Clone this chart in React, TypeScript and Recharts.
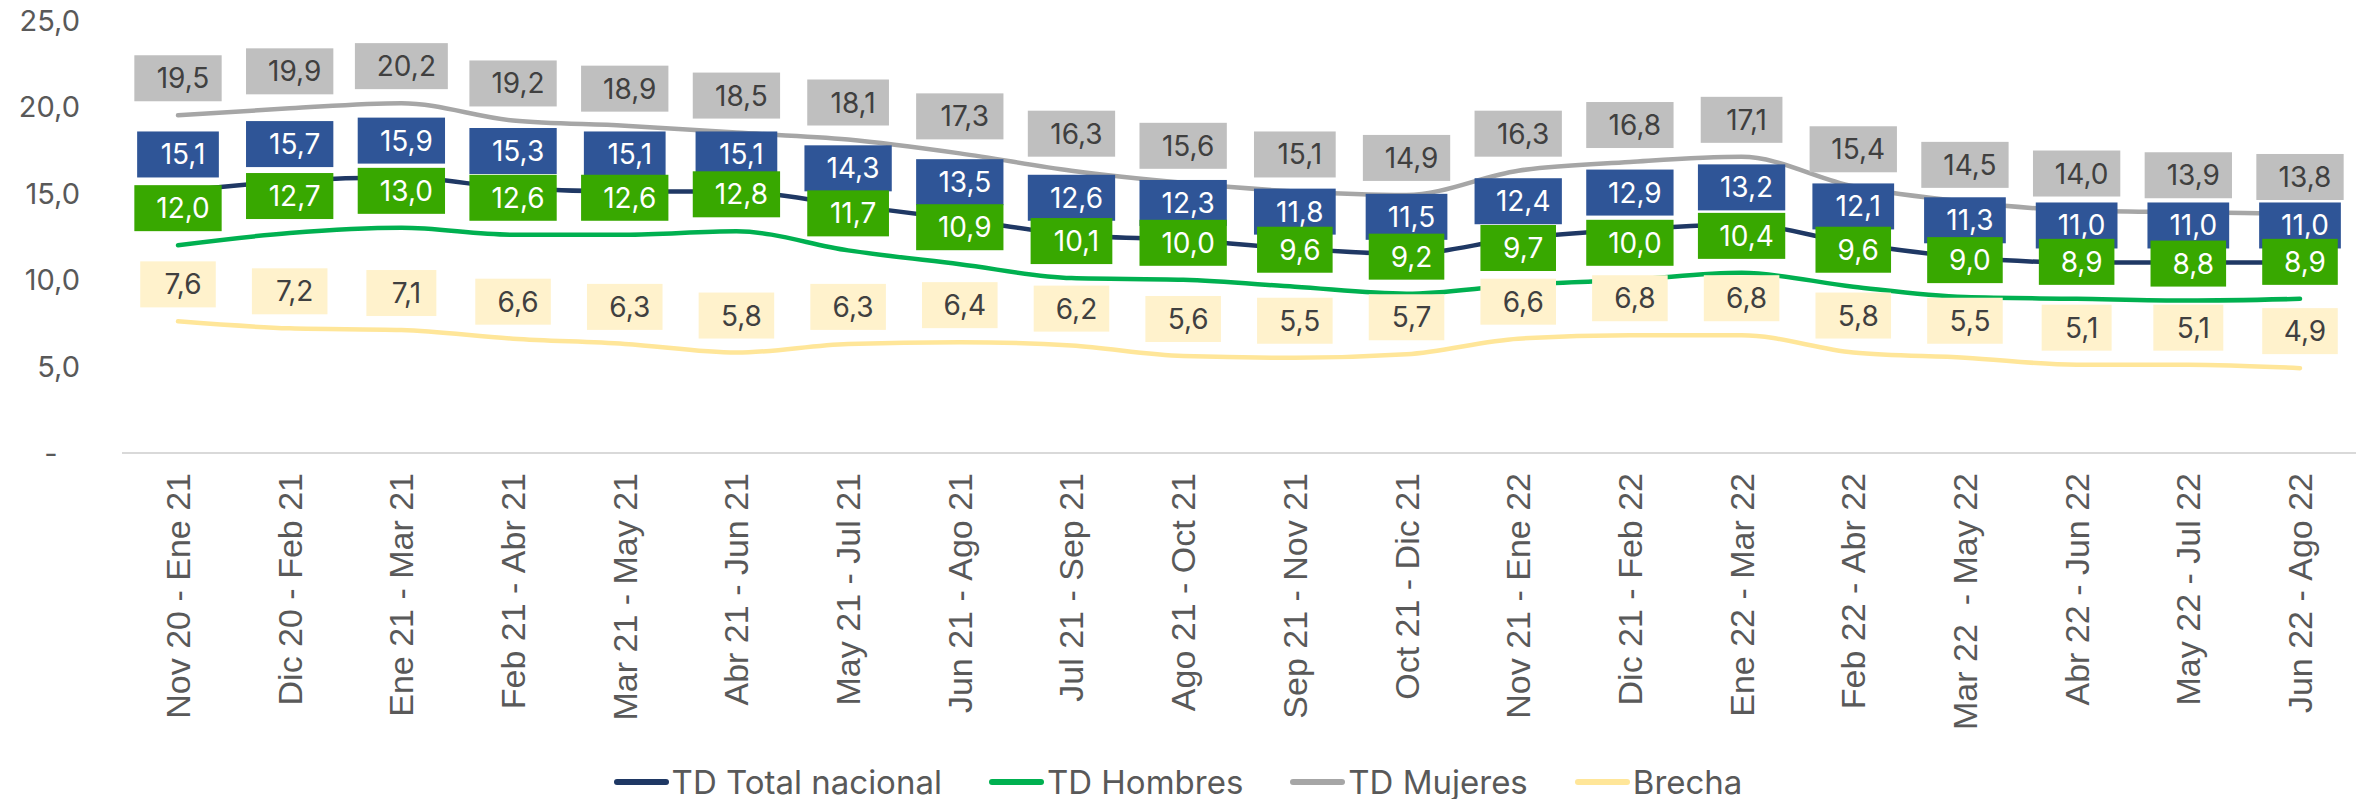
import React from "react";
import {
  LineChart,
  Line,
  XAxis,
  YAxis,
  Legend,
  LabelList,
} from "recharts";

if (typeof document !== "undefined") document.body.style.margin = "0";

const categories = [
  "Nov 20 - Ene 21",
  "Dic 20 - Feb 21",
  "Ene 21 - Mar 21",
  "Feb 21 - Abr 21",
  "Mar 21 - May 21",
  "Abr 21 - Jun 21",
  "May 21 - Jul 21",
  "Jun 21 - Ago 21",
  "Jul 21 - Sep 21",
  "Ago 21 - Oct 21",
  "Sep 21 - Nov 21",
  "Oct 21 - Dic 21",
  "Nov 21 - Ene 22",
  "Dic 21 - Feb 22",
  "Ene 22 - Mar 22",
  "Feb 22 - Abr 22",
  "Mar 22  - May 22",
  "Abr 22 - Jun 22",
  "May 22 - Jul 22",
  "Jun 22 - Ago 22",
];

const totalNacional = [15.1, 15.7, 15.9, 15.3, 15.1, 15.1, 14.3, 13.5, 12.6, 12.3, 11.8, 11.5, 12.4, 12.9, 13.2, 12.1, 11.3, 11.0, 11.0, 11.0];
const hombres = [12.0, 12.7, 13.0, 12.6, 12.6, 12.8, 11.7, 10.9, 10.1, 10.0, 9.6, 9.2, 9.7, 10.0, 10.4, 9.6, 9.0, 8.9, 8.8, 8.9];
const mujeres = [19.5, 19.9, 20.2, 19.2, 18.9, 18.5, 18.1, 17.3, 16.3, 15.6, 15.1, 14.9, 16.3, 16.8, 17.1, 15.4, 14.5, 14.0, 13.9, 13.8];
const brecha = [7.6, 7.2, 7.1, 6.6, 6.3, 5.8, 6.3, 6.4, 6.2, 5.6, 5.5, 5.7, 6.6, 6.8, 6.8, 5.8, 5.5, 5.1, 5.1, 4.9];

const yTicks = [0, 5, 10, 15, 20, 25];

const legendItems = [
  { name: "TD Total nacional", color: "#1F3864" },
  { name: "TD Hombres", color: "#00B050" },
  { name: "TD Mujeres", color: "#A6A6A6" },
  { name: "Brecha", color: "#FFE699" },
];

const data = categories.map((cat, i) => ({
  cat,
  total: totalNacional[i],
  hombres: hombres[i],
  mujeres: mujeres[i],
  brecha: brecha[i],
}));

const fmt = (v: number) => v.toFixed(1).replace(".", ",");

const LABEL_FONT = "Inter, 'Noto Sans', sans-serif";
const LABEL_SIZE = 28;

// rough glyph widths (em) so the boxes hug the text like excel does
const charW = (s: string) =>
  s.split("").reduce((acc, c) => acc + (c === "1" ? 0.42 : c === "," ? 0.28 : 0.62), 0);

const boxLabel = (bg: string, fg: string) => (props: any) => {
  const { x, y, value } = props;
  if (value == null) return null;
  const txt = fmt(Number(value));
  const w = charW(txt) * LABEL_SIZE + 33;
  const h = 46;
  const cy = y - 37;
  return (
    <g>
      <rect x={x - w / 2} y={cy - h / 2} width={w} height={h} fill={bg} />
      <text
        x={x + 5}
        y={cy}
        textAnchor="middle"
        dominantBaseline="central"
        fontFamily={LABEL_FONT}
        fontSize={LABEL_SIZE}
        fill={fg}
      >
        {txt}
      </text>
    </g>
  );
};

const XTick = (props: any) => {
  const { x, y, payload } = props;
  const label = String(payload.value).replace(/ /g, "\u00A0");
  return (
    <text
      transform={`translate(${x},${y}) rotate(-90)`}
      textAnchor="end"
      dominantBaseline="central"
      fontFamily="'Liberation Sans', Arial, sans-serif"
      fontSize={34}
      fill="#595959"
    >
      {label}
    </text>
  );
};

const YTick = (props: any) => {
  const { x, y, payload } = props;
  const v = payload.value;
  return (
    <text
      x={v === 0 ? x - 29 : x}
      y={y}
      textAnchor={v === 0 ? "middle" : "end"}
      dominantBaseline="central"
      fontFamily={LABEL_FONT}
      fontSize={29}
      fill="#595959"
    >
      {v === 0 ? "-" : fmt(v)}
    </text>
  );
};

const LegendBox = () => (
  <div
    style={{
      display: "flex",
      justifyContent: "center",
      alignItems: "center",
      height: 34,
      gap: 47,
      fontFamily: LABEL_FONT,
      fontSize: 33,
      color: "#595959",
    }}
  >
    {legendItems.map((it) => (
      <div key={it.name} style={{ display: "flex", alignItems: "center" }}>
        <span
          style={{
            display: "inline-block",
            width: 55,
            height: 6,
            borderRadius: 3,
            background: it.color,
            marginRight: 3,
          }}
        />
        <span>{it.name}</span>
      </div>
    ))}
  </div>
);

export default function App() {
  return (
    <div style={{ width: 2372, height: 799, background: "#fff" }}>
      <LineChart
        width={2372}
        height={799}
        data={data}
        margin={{ top: 20, right: 16, left: 0, bottom: 0 }}
      >
        <XAxis
          dataKey="cat"
          interval={0}
          padding={{ left: 56, right: 56 }}
          tick={<XTick />}
          tickLine={false}
          tickSize={0}
          tickMargin={20}
          height={312}
          axisLine={{ stroke: "#D9D9D9", strokeWidth: 2 }}
        />
        <YAxis
          domain={[0, 25]}
          ticks={yTicks}
          width={122}
          axisLine={false}
          tickLine={false}
          tickSize={0}
          tickMargin={42}
          tick={<YTick />}
        />
        <Legend verticalAlign="bottom" content={<LegendBox />} />
        <Line
          dataKey="mujeres"
          type="monotone"
          stroke="#A6A6A6"
          strokeWidth={4.5}
          strokeLinecap="round"
          dot={false}
          isAnimationActive={false}
        >
          <LabelList dataKey="mujeres" content={boxLabel("#BFBFBF", "#404040")} />
        </Line>
        <Line
          dataKey="brecha"
          type="monotone"
          stroke="#FFE699"
          strokeWidth={4.5}
          strokeLinecap="round"
          dot={false}
          isAnimationActive={false}
        >
          <LabelList dataKey="brecha" content={boxLabel("#FFF2CC", "#404040")} />
        </Line>
        <Line
          dataKey="total"
          type="monotone"
          stroke="#1F3864"
          strokeWidth={4.5}
          strokeLinecap="round"
          dot={false}
          isAnimationActive={false}
        >
          <LabelList dataKey="total" content={boxLabel("#2F5597", "#FFFFFF")} />
        </Line>
        <Line
          dataKey="hombres"
          type="monotone"
          stroke="#00B050"
          strokeWidth={4.5}
          strokeLinecap="round"
          dot={false}
          isAnimationActive={false}
        >
          <LabelList dataKey="hombres" content={boxLabel("#38A800", "#FFFFFF")} />
        </Line>
      </LineChart>
    </div>
  );
}
